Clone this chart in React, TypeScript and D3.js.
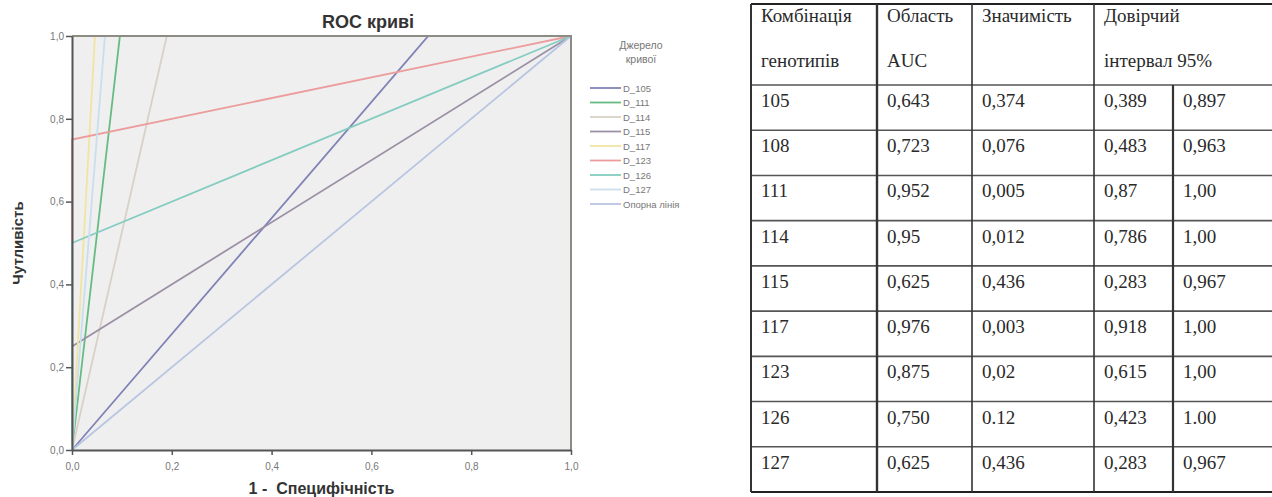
import React, { useEffect, useRef } from 'react';
import * as d3 from 'd3';

// ROC curves (1 - specificity, sensitivity)
const d105 = [[0, 0], [0.714, 1], [1, 1]];
const d111 = [[0, 0], [0.096, 1], [1, 1]];
const d114 = [[0, 0], [0.19, 1], [1, 1]];
const d115 = [[0, 0], [0, 0.25], [1, 1]];
const d117 = [[0, 0], [0.046, 1], [1, 1]];
const d123 = [[0, 0], [0, 0.75], [1, 1]];
const d126 = [[0, 0], [0, 0.5], [1, 1]];
const d127 = [[0, 0], [0.066, 1], [1, 1]];
const refLine = [[0, 0], [1, 1]];

const curveNames = ['D_105', 'D_111', 'D_114', 'D_115', 'D_117', 'D_123', 'D_126', 'D_127', 'Опорна лінія'];
const curvePoints = [d105, d111, d114, d115, d117, d123, d126, d127, refLine];
const curveColors = ['#8083b6', '#66bb82', '#d8d2c6', '#9c90a6', '#f0e4a2', '#ec9c9c', '#84ccc0', '#c9deee', '#b8c6e2'];

const axisTicks = [0, 0.2, 0.4, 0.6, 0.8, 1];

// table on the right
const headerCols = [['Комбінація', 'генотипів'], ['Область', 'AUC'], ['Значимість', ''], ['Довірчий', 'інтервал 95%']];
const combos = ['105', '108', '111', '114', '115', '117', '123', '126', '127'];
const aucValues = ['0,643', '0,723', '0,952', '0,95', '0,625', '0,976', '0,875', '0,750', '0,625'];
const significance = ['0,374', '0,076', '0,005', '0,012', '0,436', '0,003', '0,02', '0.12', '0,436'];
const ciLower = ['0,389', '0,483', '0,87', '0,786', '0,283', '0,918', '0,615', '0,423', '0,283'];
const ciUpper = ['0,897', '0,963', '1,00', '1,00', '0,967', '1,00', '1,00', '1.00', '0,967'];

const W = 1272;
const H = 497;
const plot = { left: 72, right: 571, top: 36, bottom: 450 };
const colX = [751, 877, 972, 1094, 1173, 1280];

const sans = '"Liberation Sans", Arial, sans-serif';
const serif = '"Liberation Serif", "Times New Roman", serif';

const App = () => {
  const ref = useRef(null);

  useEffect(() => {
    const svg = d3.select(ref.current);
    svg.selectAll('*').remove();
    drawChart(svg);
    drawTable(svg);
  });

  const x = d3.scaleLinear().domain([0, 1]).range([plot.left, plot.right]);
  const y = d3.scaleLinear().domain([0, 1]).range([plot.bottom, plot.top]);
  const fmt = (v) => d3.format('.1f')(v).replace('.', ',');

  const drawChart = (svg) => {
    svg.append('rect')
      .attr('x', plot.left).attr('y', plot.top)
      .attr('width', plot.right - plot.left).attr('height', plot.bottom - plot.top)
      .attr('fill', '#efefef');

    const line = d3.line().x(d => x(d[0])).y(d => y(d[1]));
    const series = curvePoints.map((pts, i) => ({ pts, name: curveNames[i], color: curveColors[i] }));

    svg.append('g')
      .selectAll('path')
      .data(series)
      .join('path')
      .attr('d', d => line(d.pts))
      .attr('fill', 'none')
      .attr('stroke', d => d.color)
      .attr('stroke-width', 1.8);

    // frame top/right drawn over the curves
    svg.append('path')
      .attr('d', `M${plot.left},${plot.top}H${plot.right}V${plot.bottom}`)
      .attr('fill', 'none').attr('stroke', '#8c8c84').attr('stroke-width', 2);

    const xAxis = d3.axisBottom(x).tickValues(axisTicks).tickFormat(fmt).tickSize(5).tickSizeOuter(0);
    const yAxis = d3.axisLeft(y).tickValues(axisTicks).tickFormat(fmt).tickSize(6).tickSizeOuter(0);

    svg.append('g')
      .attr('transform', `translate(0, ${plot.bottom})`)
      .call(xAxis)
      .call(g => g.select('.domain').attr('stroke', '#555').attr('stroke-width', 2))
      .call(g => g.selectAll('line').attr('stroke', '#555').attr('stroke-width', 1.5))
      .call(g => g.selectAll('text').attr('fill', '#777').attr('font-size', 10).attr('font-family', sans).attr('dy', '1.2em'));

    svg.append('g')
      .attr('transform', `translate(${plot.left}, 0)`)
      .call(yAxis)
      .call(g => g.select('.domain').attr('stroke', '#555').attr('stroke-width', 2))
      .call(g => g.selectAll('line').attr('stroke', '#555').attr('stroke-width', 1.5))
      .call(g => g.selectAll('text').attr('fill', '#777').attr('font-size', 10).attr('font-family', sans).attr('x', -8));

    svg.append('text')
      .attr('x', 368).attr('y', 28)
      .attr('text-anchor', 'middle')
      .attr('font-family', sans).attr('font-weight', 'bold').attr('font-size', 18)
      .attr('fill', '#333')
      .text('ROC криві');

    svg.append('text')
      .attr('transform', `translate(23, ${(plot.top + plot.bottom) / 2}) rotate(-90)`)
      .attr('text-anchor', 'middle')
      .attr('font-family', sans).attr('font-weight', 'bold').attr('font-size', 15)
      .attr('fill', '#333')
      .text('Чутливість');

    svg.append('text')
      .attr('x', (plot.left + plot.right) / 2).attr('y', 494)
      .attr('text-anchor', 'middle')
      .attr('font-family', sans).attr('font-weight', 'bold').attr('font-size', 16)
      .attr('fill', '#333')
      .attr('xml:space', 'preserve')
      .text('1 -  Специфічність');

    // legend
    const legend = svg.append('g').attr('font-family', sans).attr('fill', '#777');
    legend.append('text').attr('x', 641).attr('y', 49).attr('text-anchor', 'middle').attr('font-size', 10.5).text('Джерело');
    legend.append('text').attr('x', 641).attr('y', 63).attr('text-anchor', 'middle').attr('font-size', 10.5).text('кривої');

    const ly = d3.scalePoint().domain(curveNames).range([88, 204]);
    const items = legend.selectAll('g.item').data(series).join('g')
      .attr('class', 'item')
      .attr('transform', d => `translate(0, ${ly(d.name)})`);
    items.append('line')
      .attr('x1', 590).attr('x2', 621)
      .attr('stroke', d => d.color).attr('stroke-width', 1.8);
    items.append('text')
      .attr('x', 623).attr('y', 3.5)
      .attr('font-size', 9.5)
      .text(d => d.name);
  };

  const drawTable = (svg) => {
    const g = svg.append('g').attr('font-family', serif).attr('font-size', 19).attr('fill', '#2a2a2a');
    const rowY = d3.scaleBand().domain(combos).range([85, 492]);
    const top = 4;
    const bottom = 492;

    // header text
    headerCols.forEach((lines, i) => {
      lines.forEach((t, j) => {
        g.append('text').attr('x', colX[i] + 10).attr('y', 22 + j * 45).text(t);
      });
    });

    const rows = combos.map((c, i) => [c, aucValues[i], significance[i], ciLower[i], ciUpper[i]]);
    g.selectAll('g.row').data(rows).join('g')
      .attr('class', 'row')
      .attr('transform', (d) => `translate(0, ${rowY(d[0])})`)
      .selectAll('text')
      .data(d => d)
      .join('text')
      .attr('x', (d, i) => colX[i] + 10)
      .attr('y', 22)
      .text(d => d);

    const grid = svg.append('g').attr('stroke', '#333');
    // horizontal rules
    const hLines = [top, 85, ...combos.map(c => rowY(c) + rowY.bandwidth())];
    grid.selectAll('line.h').data(hLines).join('line')
      .attr('class', 'h')
      .attr('x1', colX[0]).attr('x2', W)
      .attr('y1', d => d).attr('y2', d => d)
      .attr('stroke-width', (d, i) => (i === 0 || i === hLines.length - 1 ? 2.2 : 1.6))
      .attr('stroke', (d, i) => (i === 0 || i === hLines.length - 1 ? '#222' : '#555'));

    // vertical rules
    const vLines = [
      { x: colX[0], y1: top, y2: bottom, w: 2 },
      { x: colX[1], y1: top, y2: bottom, w: 2.4 },
      { x: colX[2], y1: top, y2: bottom, w: 1.6 },
      { x: colX[3], y1: top, y2: bottom, w: 1.6 },
      { x: colX[4], y1: 85, y2: bottom, w: 2.2 },
    ];
    grid.selectAll('line.v').data(vLines).join('line')
      .attr('class', 'v')
      .attr('x1', d => d.x).attr('x2', d => d.x)
      .attr('y1', d => d.y1).attr('y2', d => d.y2)
      .attr('stroke-width', d => d.w);
  };

  return (
    <div style={{ position: 'absolute', left: 0, top: 0 }}>
      <svg width={W} height={H} viewBox={`0 0 ${W} ${H}`} ref={ref} style={{ display: 'block', background: '#fff' }} />
    </div>
  );
};

export default App;
